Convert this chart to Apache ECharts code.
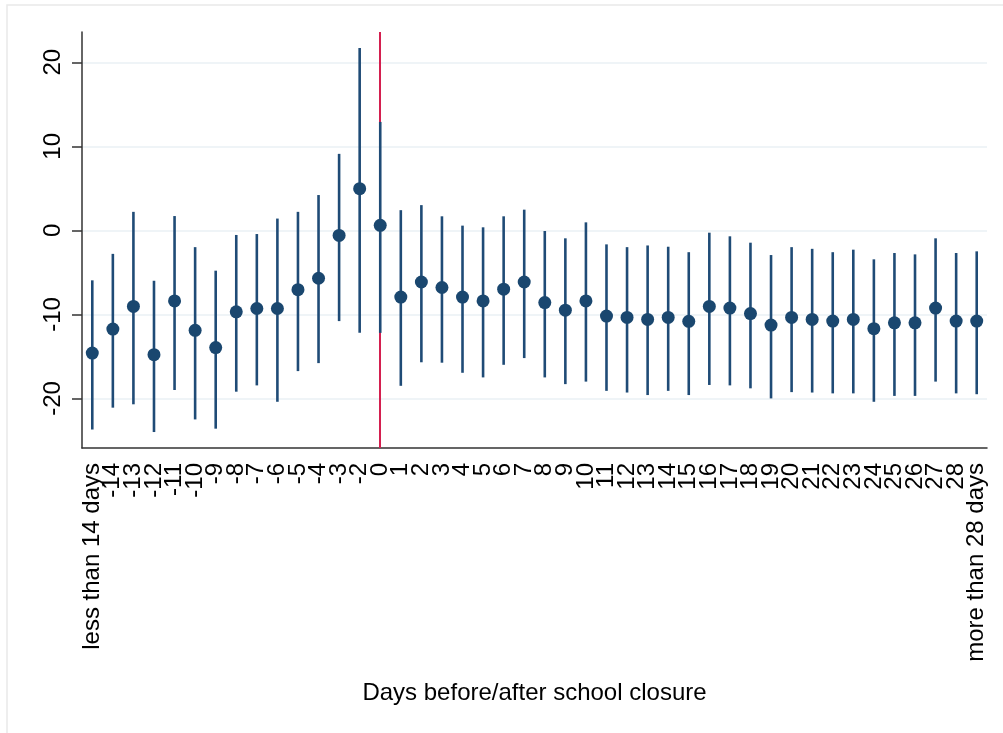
<!DOCTYPE html>
<html>
<head>
<meta charset="utf-8">
<script src="https://cdn.jsdelivr.net/npm/echarts@6/dist/echarts.min.js"></script>
<style>html,body{margin:0;padding:0;background:#fff;}#c{width:1003px;height:733px;}</style>
</head>
<body>
<div id="c"></div>
<script>
const categories = ['less than 14 days','-14','-13','-12','-11','-10','-9','-8','-7','-6','-5','-4','-3','-2','0',
  '1','2','3','4','5','6','7','8','9','10','11','12','13','14','15','16','17','18','19','20','21','22','23','24','25','26','27','28','more than 28 days'];
const estimate = [-14.6, -11.75, -9.05, -14.8, -8.4, -11.9, -13.95, -9.7, -9.3, -9.3, -7.06, -5.7, -0.6, 4.96, 0.6,
  -7.94, -6.15, -6.8, -7.94, -8.4, -7.0, -6.15, -8.6, -9.5, -8.4, -10.2, -10.36, -10.6, -10.36, -10.83,
  -9.05, -9.25, -9.9, -11.27, -10.36, -10.6, -10.8, -10.6, -11.7, -11.0, -11.0, -9.25, -10.8, -10.8];
const upperCI = [-5.95, -2.8, 2.2, -6.0, 1.7, -2.0, -4.8, -0.55, -0.44, 1.4, 2.2, 4.2, 9.1, 21.7, 12.9,
  2.4, 3.0, 1.67, 0.56, 0.36, 1.67, 2.46, -0.08, -0.95, 0.95, -1.67, -2.0, -1.8, -1.95, -2.6,
  -0.28, -0.71, -1.47, -2.94, -2.0, -2.2, -2.6, -2.3, -3.45, -2.7, -2.86, -0.95, -2.7, -2.5];
const lowerCI = [-23.7, -21.1, -20.7, -24.0, -19.0, -22.5, -23.6, -19.2, -18.45, -20.4, -16.75, -15.8, -10.8, -12.2, -12.2,
  -18.5, -15.7, -15.75, -16.95, -17.5, -16.0, -15.2, -17.5, -18.3, -18.0, -19.1, -19.3, -19.6, -19.1, -19.6,
  -18.4, -18.45, -18.8, -20.0, -19.25, -19.3, -19.4, -19.4, -20.4, -19.7, -19.7, -18.0, -19.4, -19.5];
const yTicks = [-20, -10, 0, 10, 20];
const closureDay = '0';
const xTitle = 'Days before/after school closure';

const FONT = '"Liberation Sans", Arial, Helvetica, sans-serif';
const NAVY = '#1a476f';

const chart = echarts.init(document.getElementById('c'), null, {renderer: 'canvas'});
chart.setOption({
  animation: false,
  backgroundColor: '#fff',
  textStyle: {fontFamily: FONT},
  graphic: [{
    type: 'rect', silent: true, z: -10,
    shape: {x: 7, y: 5, width: 1010, height: 740},
    style: {fill: 'none', stroke: '#e9e9e9', lineWidth: 1.5}
  }],
  grid: {left: 82, right: 16, top: 32, bottom: 285},
  xAxis: {
    type: 'category',
    data: categories,
    boundaryGap: true,
    name: xTitle,
    nameLocation: 'middle',
    nameGap: 233,
    nameTextStyle: {fontSize: 24, color: '#000', fontFamily: FONT},
    axisLine: {onZero: false, lineStyle: {color: '#333', width: 1.5}},
    axisTick: {alignWithLabel: true, interval: 0, length: 10, lineStyle: {color: '#555', width: 1.5}},
    axisLabel: {interval: 0, rotate: 90, margin: 15, fontSize: 24, color: '#000', fontFamily: FONT},
    splitLine: {show: false}
  },
  yAxis: {
    type: 'value',
    min: -25.9,
    max: 23.6,
    axisLine: {show: true, onZero: false, lineStyle: {color: '#333', width: 1.5}},
    axisTick: {show: true, length: 10, customValues: yTicks, lineStyle: {color: '#333', width: 1.5}},
    axisLabel: {rotate: 90, margin: 17, fontSize: 24, color: '#000', fontFamily: FONT, customValues: yTicks},
    splitLine: {show: true, lineStyle: {color: '#eaf1f4', width: 1.5}}
  },
  series: [
    {
      type: 'line',
      data: [],
      z: 1,
      silent: true,
      markLine: {
        z: 1,
        silent: true,
        symbol: 'none',
        label: {show: false},
        lineStyle: {color: '#d41f4f', width: 2, type: 'solid'},
        data: [{xAxis: closureDay}]
      }
    },
    {
      type: 'custom',
      z: 2,
      silent: true,
      data: categories.map((c, i) => [i, lowerCI[i], upperCI[i]]),
      encode: {x: 0, y: [1, 2]},
      renderItem: function (params, api) {
        const i = api.value(0);
        const lo = api.coord([i, api.value(1)]);
        const hi = api.coord([i, api.value(2)]);
        return {
          type: 'line',
          shape: {x1: lo[0], y1: lo[1], x2: hi[0], y2: hi[1]},
          style: {stroke: '#1f4b76', lineWidth: 2.6}
        };
      }
    },
    {
      type: 'scatter',
      z: 3,
      silent: true,
      symbol: 'circle',
      symbolSize: 13,
      itemStyle: {color: NAVY, opacity: 1},
      data: estimate
    }
  ]
});
</script>
</body>
</html>
